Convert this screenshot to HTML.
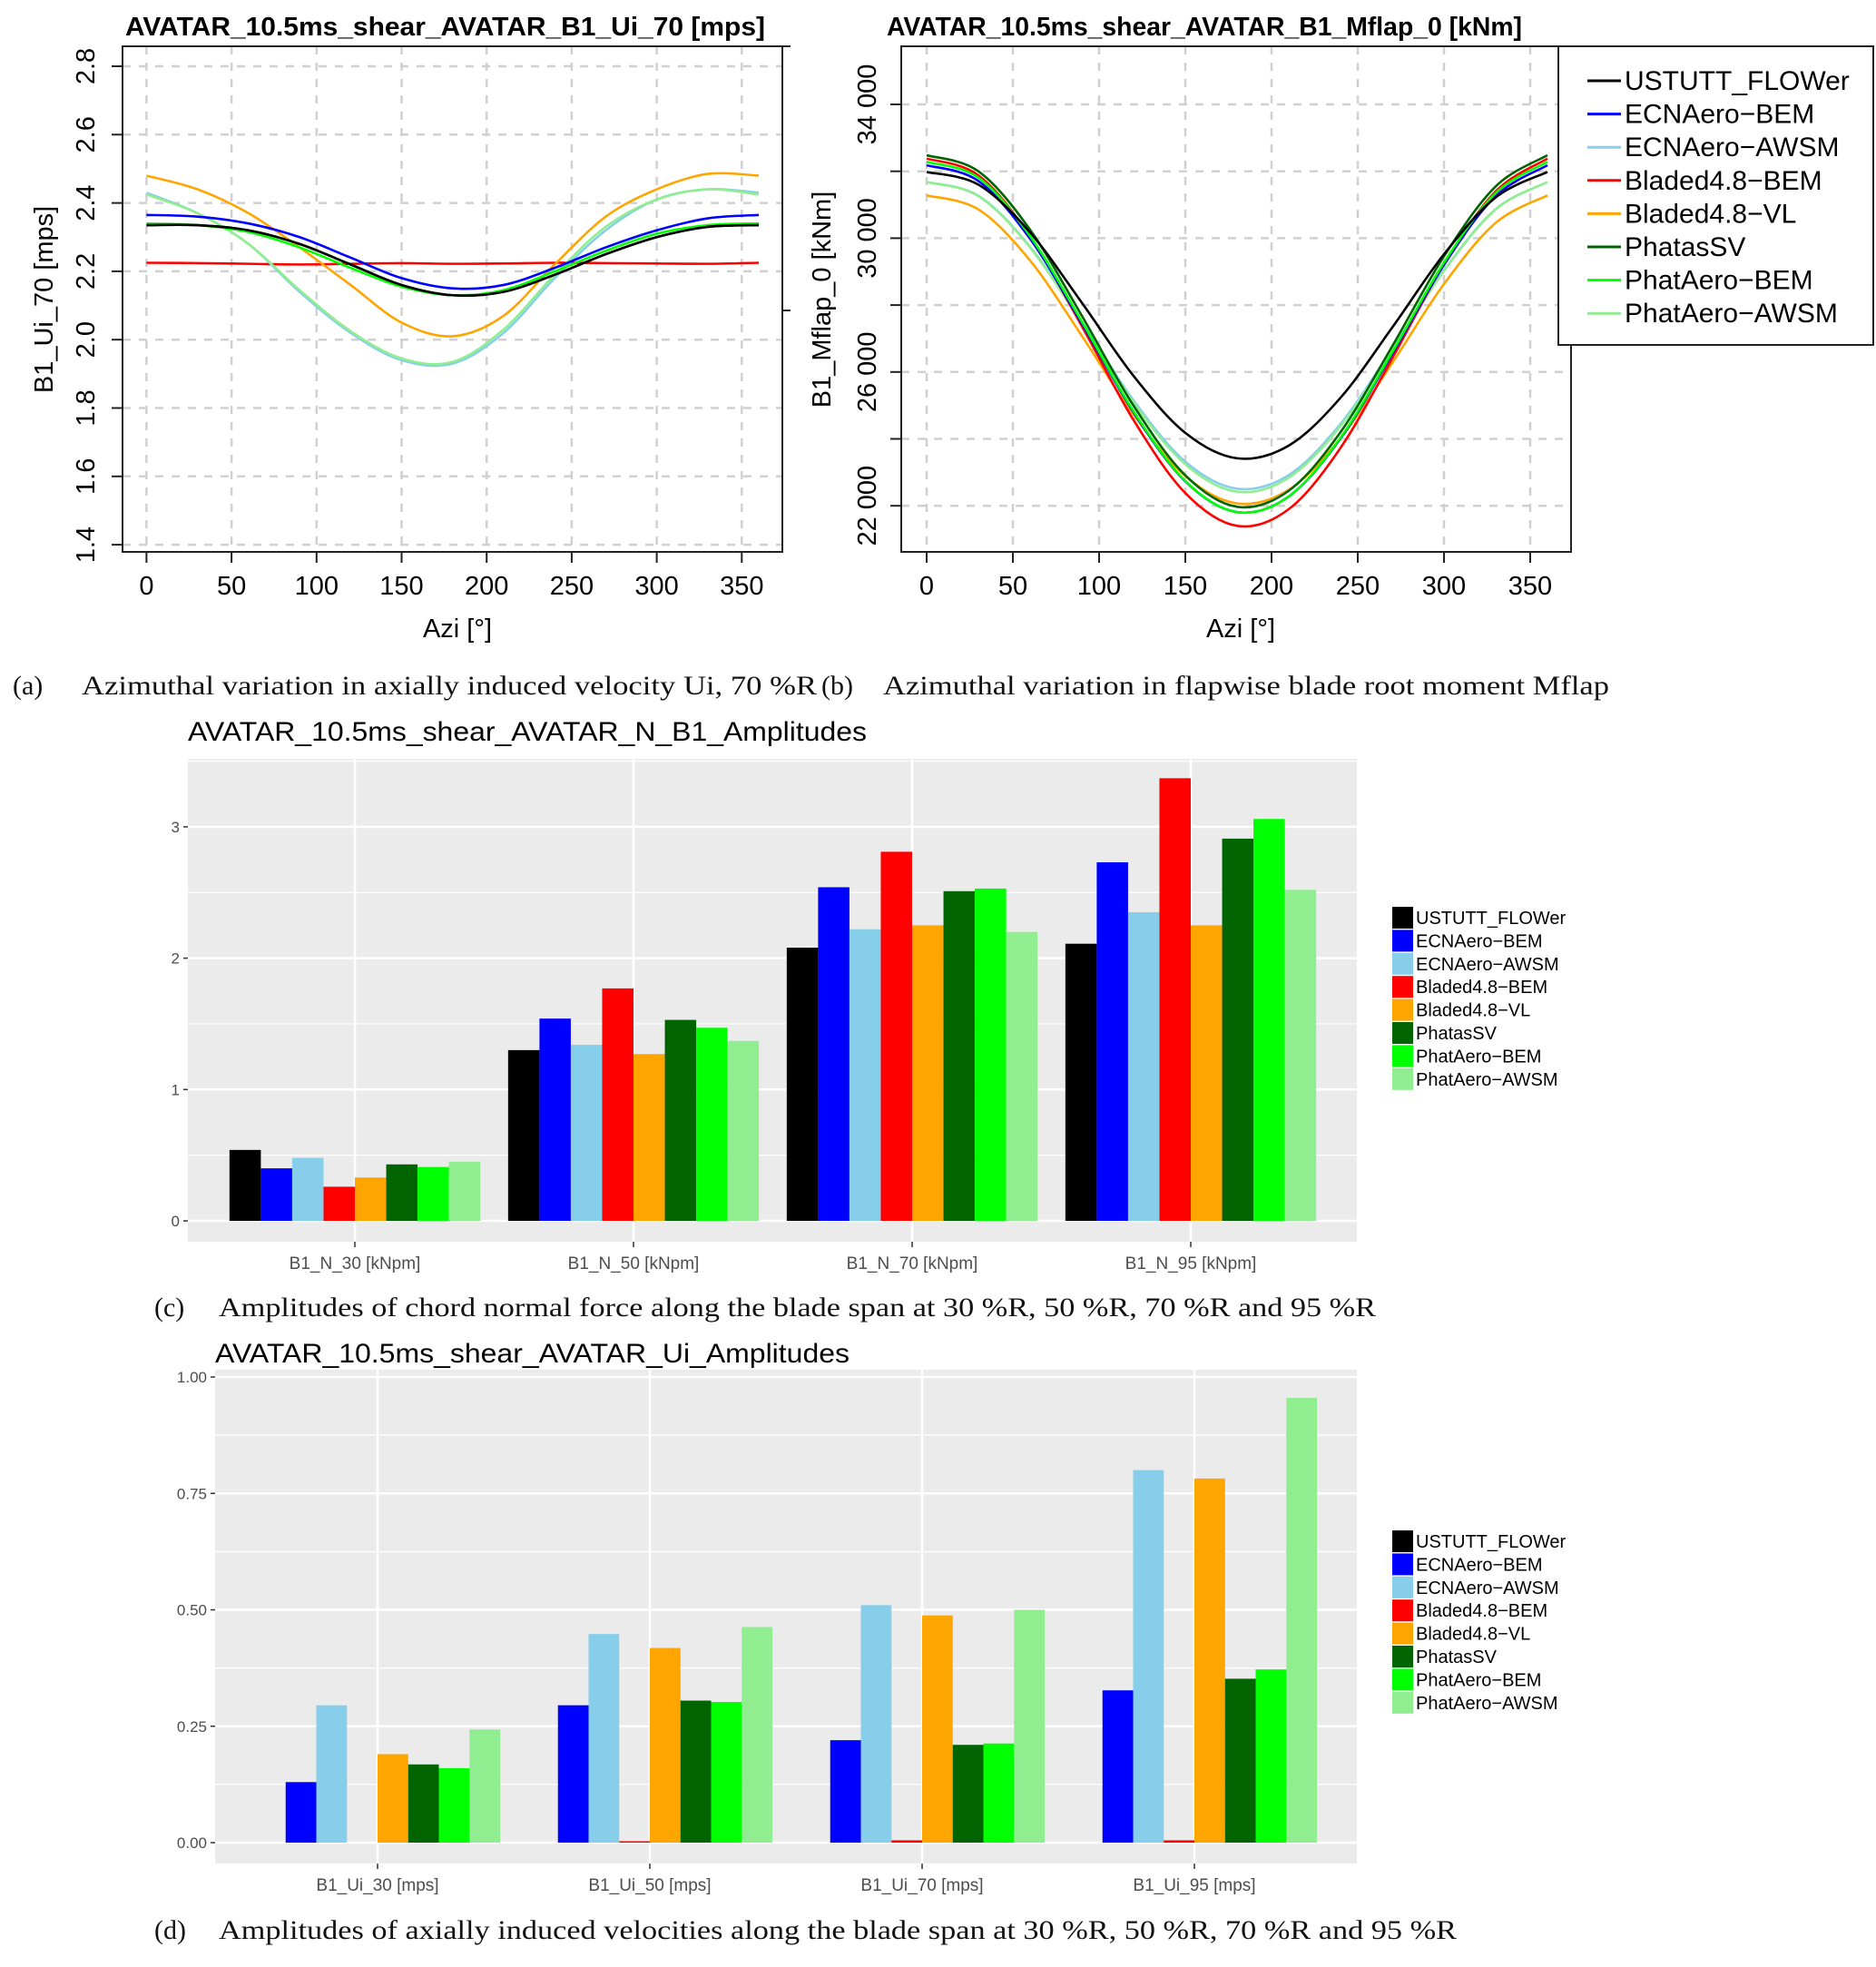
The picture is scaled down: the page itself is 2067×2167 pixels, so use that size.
<!DOCTYPE html>
<html><head><meta charset="utf-8">
<style>
body{margin:0;background:#fff;}
svg{display:block;}
text{font-family:"Liberation Sans",sans-serif;}
.cap{font-family:"Liberation Serif",serif;font-size:30px;fill:#111;}
</style></head>
<body>
<svg id="root" width="2067" height="2167" viewBox="0 0 2067 2167" xmlns="http://www.w3.org/2000/svg">
<g><text class="cap" x="14" y="765">(a)</text><text class="cap" x="90" y="765" textLength="810" lengthAdjust="spacingAndGlyphs">Azimuthal variation in axially induced velocity Ui, 70 %R</text></g>
<g><text class="cap" x="905" y="765">(b)</text><text class="cap" x="973" y="765" textLength="800" lengthAdjust="spacingAndGlyphs">Azimuthal variation in flapwise blade root moment Mflap</text></g>
<g><text class="cap" x="170" y="1450">(c)</text><text class="cap" x="241" y="1450" textLength="1275" lengthAdjust="spacingAndGlyphs">Amplitudes of chord normal force along the blade span at 30 %R, 50 %R, 70 %R and 95 %R</text></g>
<g><text class="cap" x="170" y="2136">(d)</text><text class="cap" x="241" y="2136" textLength="1364" lengthAdjust="spacingAndGlyphs">Amplitudes of axially induced velocities along the blade span at 30 %R, 50 %R, 70 %R and 95 %R</text></g>
</svg>
<script>
const seriesNames = ["USTUTT_FLOWer","ECNAero\u2212BEM","ECNAero\u2212AWSM","Bladed4.8\u2212BEM","Bladed4.8\u2212VL","PhatasSV","PhatAero\u2212BEM","PhatAero\u2212AWSM"];
const seriesColors = ["#000000","#0000ff","#87ceeb","#ff0000","#ffa500","#006400","#00ff00","#90ee90"];
const azi = [0,30,60,90,120,150,180,210,240,270,300,330,360];
// Plot (a) Ui_70 [mps]
const uiBlack = [2.335,2.335,2.32,2.28,2.22,2.16,2.13,2.14,2.19,2.25,2.30,2.33,2.335];
const uiBlue = [2.365,2.36,2.34,2.30,2.24,2.18,2.15,2.16,2.21,2.27,2.32,2.355,2.365];
const uiLightBlue = [2.43,2.37,2.28,2.14,2.02,1.94,1.93,2.02,2.18,2.32,2.41,2.44,2.43];
const uiRed = [2.225,2.224,2.222,2.22,2.222,2.224,2.222,2.223,2.225,2.224,2.223,2.222,2.225];
const uiOrange = [2.48,2.44,2.37,2.27,2.16,2.05,2.01,2.07,2.22,2.36,2.44,2.485,2.48];
const uiDarkGreen = [2.335,2.335,2.32,2.28,2.22,2.16,2.13,2.14,2.19,2.25,2.30,2.33,2.335];
const uiGreen = [2.34,2.335,2.315,2.27,2.21,2.155,2.13,2.145,2.20,2.26,2.31,2.335,2.34];
const uiLightGreen = [2.425,2.37,2.28,2.145,2.025,1.945,1.935,2.03,2.19,2.33,2.41,2.44,2.425];
// Plot (b) Mflap_0 [kNm]
const mfBlack = [31980,31600,30170,28070,25880,24180,23420,23800,25230,27330,29520,31220,31980];
const mfBlue = [32180,31710,29980,27450,24790,22730,21810,22280,24010,26540,29200,31260,32180];
const mfLightBlue = [31680,31270,29740,27500,25150,23320,22510,22920,24450,26690,29040,30870,31680];
const mfRed = [32380,31880,30050,27370,24560,22380,21400,21900,23730,26410,29220,31400,32380];
const mfOrange = [31280,30860,29330,27080,24720,22890,22070,22480,24020,26270,28630,30460,31280];
const mfDarkGreen = [32480,32000,30250,27680,24990,22910,21970,22450,24200,26770,29460,31550,32480];
const mfGreen = [32280,31810,30060,27500,24820,22740,21810,22280,24030,26590,29270,31350,32280];
const mfLightGreen = [31680,31260,29720,27450,25080,23240,22420,22840,24380,26650,29020,30860,31680];
const aziTicks = [0,50,100,150,200,250,300,350];
const uiTicks = ["1.4","1.6","1.8","2.0","2.2","2.4","2.6","2.8"];
const mfGridVals = [22000,24000,26000,28000,30000,32000,34000];
const mfTickLabels = ["22 000","26 000","30 000","34 000"];
// Plot (c)
const nCats = ["B1_N_30 [kNpm]","B1_N_50 [kNpm]","B1_N_70 [kNpm]","B1_N_95 [kNpm]"];
const nBlack = [0.54,1.30,2.08,2.11];
const nBlue = [0.40,1.54,2.54,2.73];
const nLightBlue = [0.48,1.34,2.22,2.35];
const nRed = [0.26,1.77,2.81,3.37];
const nOrange = [0.33,1.27,2.25,2.25];
const nDarkGreen = [0.43,1.53,2.51,2.91];
const nGreen = [0.41,1.47,2.53,3.06];
const nLightGreen = [0.45,1.37,2.20,2.52];
const nTicks = ["0","1","2","3"];
// Plot (d)
const uCats = ["B1_Ui_30 [mps]","B1_Ui_50 [mps]","B1_Ui_70 [mps]","B1_Ui_95 [mps]"];
const uBlack = [0,0,0,0];
const uBlue = [0.13,0.295,0.22,0.327];
const uLightBlue = [0.295,0.448,0.51,0.80];
const uRed = [0,0.003,0.005,0.005];
const uOrange = [0.19,0.418,0.488,0.782];
const uDarkGreen = [0.168,0.305,0.21,0.352];
const uGreen = [0.16,0.302,0.213,0.372];
const uLightGreen = [0.243,0.463,0.50,0.955];
const uTicks = ["0.00","0.25","0.50","0.75","1.00"];

const NS="http://www.w3.org/2000/svg";
const root=document.getElementById('root');
function mk(tag,attrs,parent){const e=document.createElementNS(NS,tag);for(const k in attrs)e.setAttribute(k,attrs[k]);(parent||root).appendChild(e);return e;}
function txt(parent,x,y,s,attrs){const t=mk('text',Object.assign({x:x,y:y},attrs||{}),parent);t.textContent=s;return t;}
function smoothPath(pts){let d="M"+pts[0][0]+","+pts[0][1];for(let i=0;i<pts.length-1;i++){const p0=pts[Math.max(0,i-1)],p1=pts[i],p2=pts[i+1],p3=pts[Math.min(pts.length-1,i+2)];const c1=[p1[0]+(p2[0]-p0[0])/6,p1[1]+(p2[1]-p0[1])/6];const c2=[p2[0]-(p3[0]-p1[0])/6,p2[1]-(p3[1]-p1[1])/6];d+=" C"+c1[0]+","+c1[1]+" "+c2[0]+","+c2[1]+" "+p2[0]+","+p2[1];}return d;}

// ---------- Plot A ----------
(function(){
const g=mk('g',{});


const xA=v=>161.4+v*93.7/50, yA=v=>73+(2.8-v)/0.2*75.3;
const t=txt(g,138,39,"AVATAR_10.5ms_shear_AVATAR_B1_Ui_70 [mps]",{'font-size':'29','font-weight':'bold',textLength:'705',lengthAdjust:'spacingAndGlyphs'});


aziTicks.forEach(v=>{mk('line',{x1:xA(v),x2:xA(v),y1:51,y2:608,stroke:'#d0d0d0','stroke-width':2.5,'stroke-dasharray':'9,9'},g);});
uiTicks.forEach(s=>{const v=parseFloat(s);mk('line',{x1:135,x2:862,y1:yA(v),y2:yA(v),stroke:'#d0d0d0','stroke-width':2.5,'stroke-dasharray':'9,9'},g);});
const series=[uiBlack,uiBlue,uiLightBlue,uiRed,uiOrange,uiDarkGreen,uiGreen,uiLightGreen];
const order=[3,4,2,7,1,6,5,0];
order.forEach(i=>{const p=mk('path',{d:smoothPath(azi.map((a,j)=>[xA(a),yA(series[i][j])])),fill:'none',stroke:seriesColors[i],'stroke-width':2.6},g);

});
mk('rect',{x:135,y:51,width:727,height:557,fill:'none',stroke:'#222','stroke-width':2},g);
mk('line',{x1:862,x2:871,y1:51,y2:51,stroke:'#222','stroke-width':2},g);
mk('line',{x1:862,x2:871,y1:342,y2:342,stroke:'#222','stroke-width':2},g);
aziTicks.forEach(v=>{mk('line',{x1:xA(v),x2:xA(v),y1:608,y2:620,stroke:'#222','stroke-width':2},g);txt(g,xA(v),655,String(v),{'text-anchor':'middle','font-size':'29'});});
uiTicks.forEach(s=>{const v=parseFloat(s);mk('line',{x1:123,x2:135,y1:yA(v),y2:yA(v),stroke:'#222','stroke-width':2},g);txt(g,104,yA(v),s,{'text-anchor':'middle','font-size':'29',transform:'rotate(-90 104 '+yA(v)+')'});});
const xt=txt(g,504,702,"Azi [°]",{'text-anchor':'middle','font-size':'29'});


const yt=txt(g,58,330,"B1_Ui_70 [mps]",{'text-anchor':'middle','font-size':'29',transform:'rotate(-90 58 330)'});


})();

// ---------- Plot B ----------
(function(){
const g=mk('g',{});


const xB=v=>1021+v*95/50, yB=v=>115+(34000-v)/2000*73.7;
const t=txt(g,977,39,"AVATAR_10.5ms_shear_AVATAR_B1_Mflap_0 [kNm]",{'font-size':'29','font-weight':'bold',textLength:'700',lengthAdjust:'spacingAndGlyphs'});


aziTicks.forEach(v=>{mk('line',{x1:xB(v),x2:xB(v),y1:51,y2:608,stroke:'#d0d0d0','stroke-width':2.5,'stroke-dasharray':'9,9'},g);});
mfGridVals.forEach(v=>{mk('line',{x1:993,x2:1731,y1:yB(v),y2:yB(v),stroke:'#d0d0d0','stroke-width':2.5,'stroke-dasharray':'9,9'},g);});
const series=[mfBlack,mfBlue,mfLightBlue,mfRed,mfOrange,mfDarkGreen,mfGreen,mfLightGreen];
const order=[4,2,7,3,1,6,5,0];
order.forEach(i=>{const p=mk('path',{d:smoothPath(azi.map((a,j)=>[xB(a),yB(series[i][j])])),fill:'none',stroke:seriesColors[i],'stroke-width':2.6},g);

});
mk('rect',{x:993,y:51,width:738,height:557,fill:'none',stroke:'#222','stroke-width':2},g);
aziTicks.forEach(v=>{mk('line',{x1:xB(v),x2:xB(v),y1:608,y2:620,stroke:'#222','stroke-width':2},g);txt(g,xB(v),655,String(v),{'text-anchor':'middle','font-size':'29'});});
mfGridVals.forEach(v=>{mk('line',{x1:981,x2:993,y1:yB(v),y2:yB(v),stroke:'#222','stroke-width':2},g);});
mfTickLabels.forEach(s=>{const v=parseFloat(s.replace(' ',''));txt(g,965,yB(v),s,{'text-anchor':'middle','font-size':'29',transform:'rotate(-90 965 '+yB(v)+')'});});
const xt=txt(g,1367,702,"Azi [°]",{'text-anchor':'middle','font-size':'29'});


const yt=txt(g,915,330,"B1_Mflap_0 [kNm]",{'text-anchor':'middle','font-size':'29',transform:'rotate(-90 915 330)'});


const lg=mk('g',{},g);


mk('rect',{x:1717,y:51,width:347,height:329,fill:'#fff',stroke:'#222','stroke-width':2},lg);
seriesNames.forEach((n,i)=>{const y=89+i*36.6;const e=mk('g',{},lg);


mk('line',{x1:1749,x2:1786,y1:y,y2:y,stroke:seriesColors[i],'stroke-width':3},e);txt(e,1790,y+10,n,{'font-size':'30'});});
})();

// ---------- Bar charts ----------
function barChart(o){
const g=mk('g',{});


const t=txt(g,o.px,o.titleY,o.title,{'font-size':'30',textLength:o.titleLen,lengthAdjust:'spacingAndGlyphs'});


mk('rect',{x:o.px,y:o.py,width:o.pw,height:o.ph,fill:'#ebebeb'},g);
const yS=v=>o.y0-v*o.perUnit;
for(let k=0;k<o.minor.length;k++){mk('line',{x1:o.px,x2:o.px+o.pw,y1:yS(o.minor[k]),y2:yS(o.minor[k]),stroke:'#fff','stroke-width':1.2},g);}
o.ticks.forEach(s=>{const v=parseFloat(s);mk('line',{x1:o.px,x2:o.px+o.pw,y1:yS(v),y2:yS(v),stroke:'#fff','stroke-width':2.5},g);
mk('line',{x1:o.px-5,x2:o.px,y1:yS(v),y2:yS(v),stroke:'#333','stroke-width':1.5},g);
txt(g,o.px-9,yS(v)+6,s,{'text-anchor':'end','font-size':'17',fill:'#4d4d4d'});});
const xC=i=>o.c0+i*o.step;
o.cats.forEach((c,i)=>{mk('line',{x1:xC(i),x2:xC(i),y1:o.py,y2:o.py+o.ph,stroke:'#fff','stroke-width':2.5},g);
mk('line',{x1:xC(i),x2:xC(i),y1:o.py+o.ph,y2:o.py+o.ph+6,stroke:'#333','stroke-width':1.5},g);
txt(g,xC(i),o.py+o.ph+30,c,{'text-anchor':'middle','font-size':'19',fill:'#4d4d4d'});});
const bw=o.step*0.9/8;
o.series.forEach((arr,s)=>{arr.forEach((v,i)=>{const x=xC(i)-4*bw+s*bw;const r=mk('rect',{x:x,y:yS(v),width:bw,height:Math.max(0,v*o.perUnit),fill:seriesColors[s]},g);

});});
const lg=mk('g',{},g);


seriesNames.forEach((n,i)=>{const y=o.legY+i*25.4;const e=mk('g',{},lg);


mk('rect',{x:1534,y:y-12,width:23,height:24,fill:seriesColors[i]},e);txt(e,1560,y+7,n,{'font-size':'20'});});
}
barChart({name:'n-amplitudes-bar-chart',title:'AVATAR_10.5ms_shear_AVATAR_N_B1_Amplitudes',titleLen:'748',px:207,py:836,pw:1288,ph:532,titleY:816,y0:1345,perUnit:144.7,ticks:nTicks,minor:[0.5,1.5,2.5,3.5],cats:nCats,c0:391,step:307,
series:[nBlack,nBlue,nLightBlue,nRed,nOrange,nDarkGreen,nGreen,nLightGreen],legY:1011});
barChart({name:'ui-amplitudes-bar-chart',title:'AVATAR_10.5ms_shear_AVATAR_Ui_Amplitudes',titleLen:'699',px:237,py:1509,pw:1258,ph:544,titleY:1501,y0:2030,perUnit:513,ticks:uTicks,minor:[0.125,0.375,0.625,0.875],cats:uCats,c0:416,step:300,
series:[uBlack,uBlue,uLightBlue,uRed,uOrange,uDarkGreen,uGreen,uLightGreen],legY:1698});
</script>
</body></html>
